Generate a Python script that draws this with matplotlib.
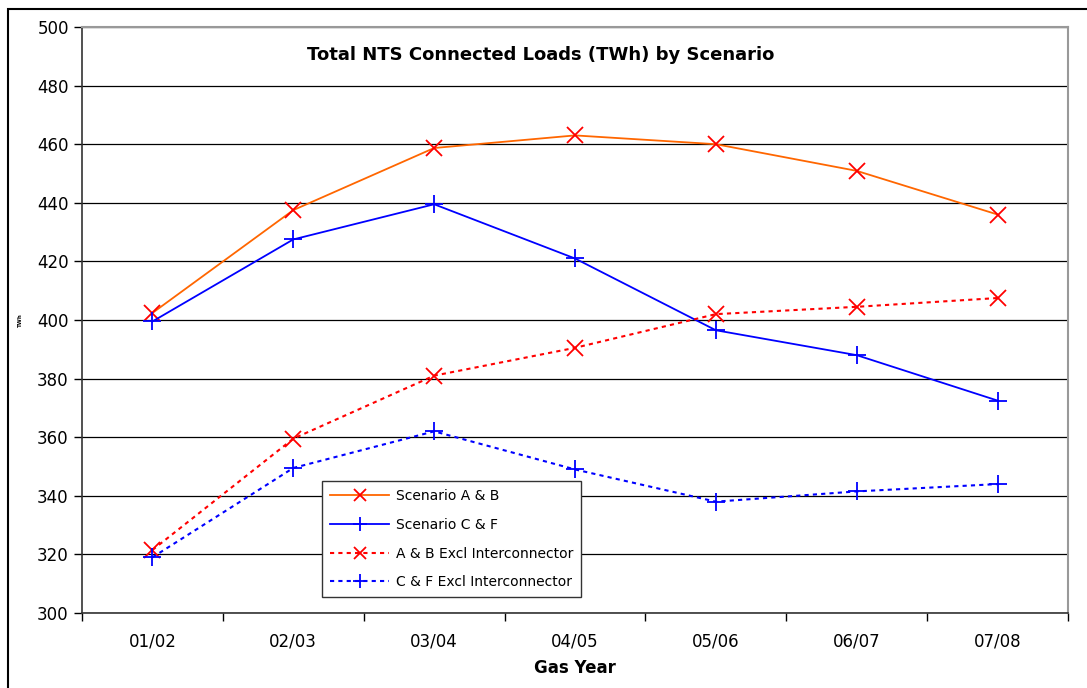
import matplotlib
matplotlib.use("Agg")
import matplotlib.pyplot as plt
from matplotlib.patches import Rectangle

years = ["01/02", "02/03", "03/04", "04/05", "05/06", "06/07", "07/08"]
scen_ab = [402.4, 437.5, 458.7, 463.0, 460.0, 450.9, 436.0]
scen_cf = [399.5, 427.5, 439.5, 421.0, 396.5, 388.0, 372.5]
ab_excl = [321.5, 359.5, 381.0, 390.5, 402.0, 404.5, 407.5]
cf_excl = [319.0, 349.5, 362.0, 349.0, 338.0, 341.5, 344.0]

fig = plt.figure(figsize=(10.87, 6.88), dpi=100)
ax = fig.add_axes([82/1087, 1-613/688, (1068-82)/1087, (613-27)/688])

# outer chart border (Excel style)
fig.patches.append(Rectangle((8/1087, -0.1), 1.2, 1-9/688+0.1, transform=fig.transFigure,
                             fill=False, edgecolor='black', linewidth=1.5))

x = list(range(len(years)))
ax.plot(x, scen_ab, color='#FF6600', lw=1.3, marker='x', ms=11, mew=1.3, mec='#FF0000',
        label='Scenario A & B')
ax.plot(x, scen_cf, color='#0000FF', lw=1.3, marker='+', ms=13, mew=1.3,
        label='Scenario C & F')
ax.plot(x, ab_excl, color='#FF0000', lw=1.5, ls=(0, (2, 2)), marker='x', ms=11, mew=1.3,
        label='A & B Excl Interconnector')
ax.plot(x, cf_excl, color='#0000FF', lw=1.5, ls=(0, (2, 2)), marker='+', ms=13, mew=1.3,
        label='C & F Excl Interconnector')

ax.set_xlim(-0.5, 6.5)
ax.set_ylim(300, 500)
ax.set_yticks(range(300, 501, 20))
ax.set_xticks(x)
ax.set_xticklabels(years)
ax.set_xticks([i - 0.5 for i in range(len(years) + 1)], minor=True)
ax.tick_params(axis='x', which='major', length=0, labelsize=12, pad=14)
ax.tick_params(axis='x', which='minor', length=6, direction='out', width=1)
ax.tick_params(axis='y', length=6, direction='out', labelsize=12, width=1)
ax.grid(axis='y', color='black', lw=0.9)
ax.set_axisbelow(True)
for s in ['left', 'bottom']:
    ax.spines[s].set_color('#333333')
    ax.spines[s].set_linewidth(1.2)
for s in ['top', 'right']:
    ax.spines[s].set_color('#999999')
    ax.spines[s].set_linewidth(1.5)

ax.set_xlabel('Gas Year', fontsize=12, fontweight='bold', labelpad=6)
ax.set_ylabel('TWh', fontsize=4, fontweight='bold', labelpad=10)
fig.text(541/1087, 1-55/688, 'Total NTS Connected Loads (TWh) by Scenario',
         ha='center', va='center', fontsize=13, fontweight='bold')

leg = ax.legend(loc='upper left', bbox_to_anchor=((322-82)/986, (613-481)/586),
                fontsize=10, frameon=True, fancybox=False, edgecolor='#333333',
                framealpha=1, borderpad=0.6, labelspacing=1.05, handlelength=4.2,
                handletextpad=0.5, borderaxespad=0, markerscale=0.75)
leg.get_frame().set_linewidth(1)

fig.savefig('out.png', dpi=100)
